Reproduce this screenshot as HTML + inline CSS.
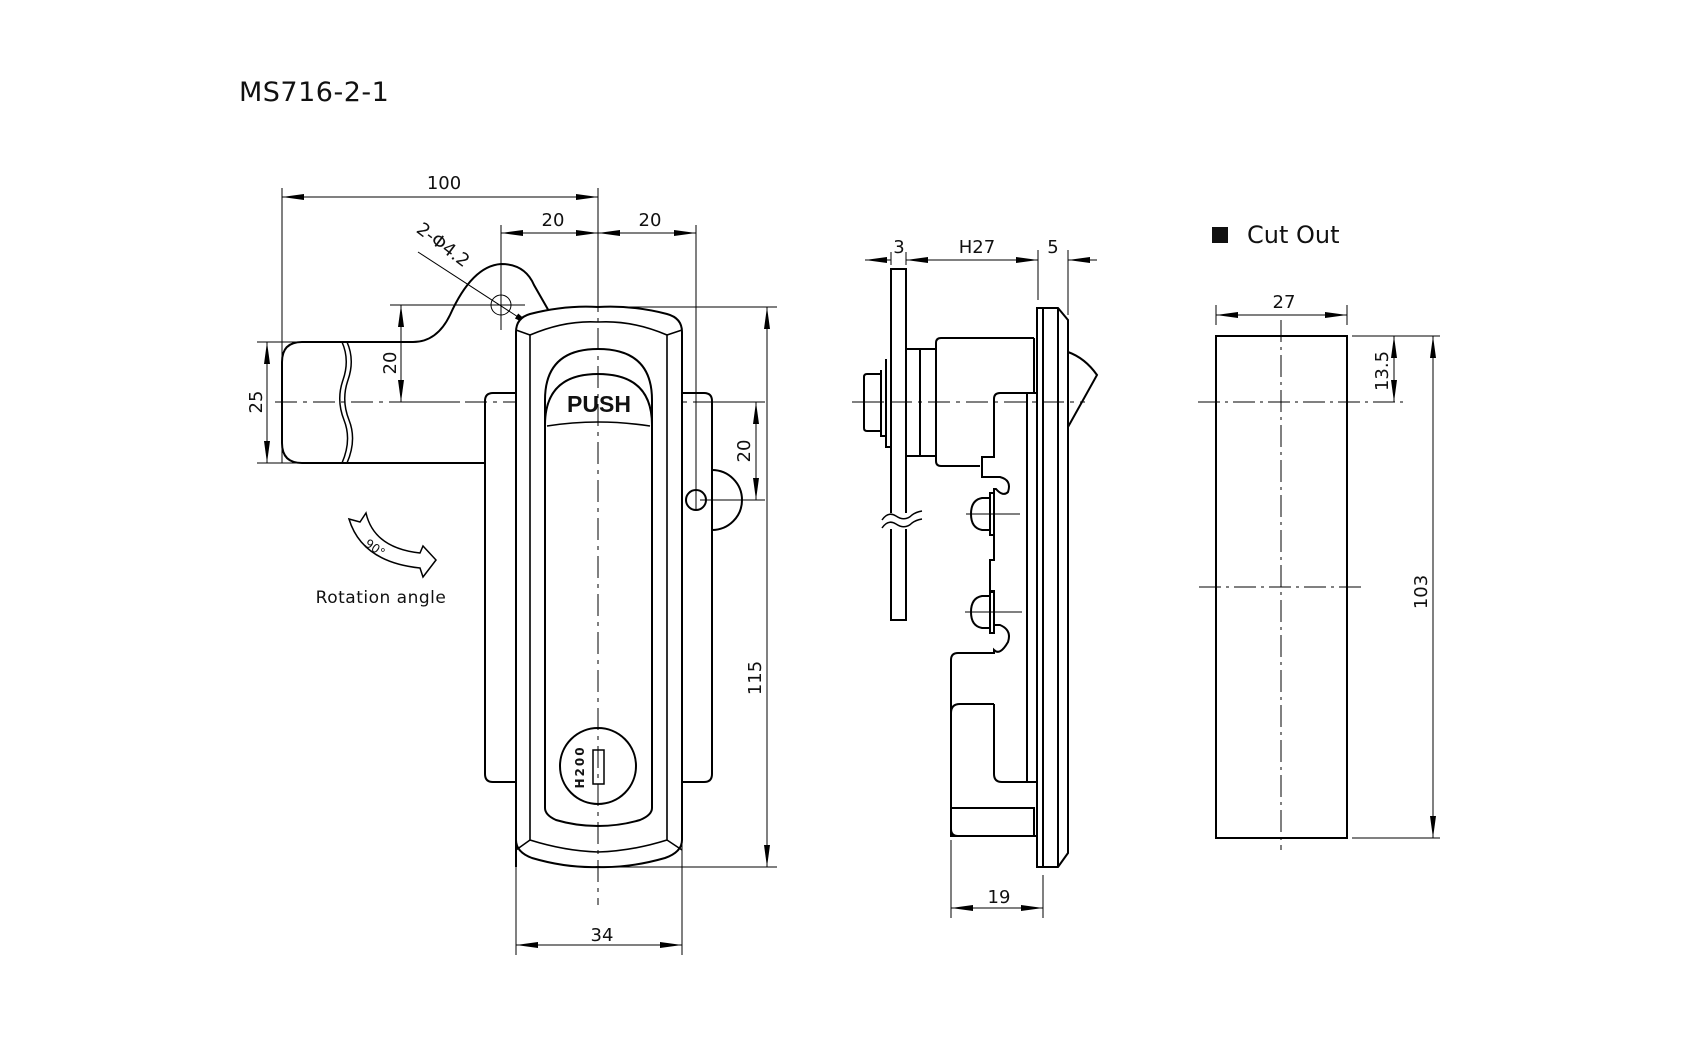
<!DOCTYPE html>
<html><head><meta charset="utf-8"><style>
html,body{margin:0;padding:0;background:#fff;}
svg{display:block;}
text{font-family:"DejaVu Sans","Liberation Sans",sans-serif;fill:#111;}
</style></head><body>
<svg width="1684" height="1045" viewBox="0 0 1684 1045" xmlns="http://www.w3.org/2000/svg">
<defs>
<marker id="a" viewBox="0 0 22 8" refX="22" refY="4" markerWidth="22" markerHeight="8" markerUnits="userSpaceOnUse" orient="auto-start-reverse"><path d="M0,1 L22,4 L0,7 Z" fill="#000"/></marker>
</defs>
<rect width="1684" height="1045" fill="#fff"/>
<text x="239" y="101" font-size="27" letter-spacing="0.5">MS716-2-1</text>

<!-- ============ FRONT VIEW ============ -->
<g fill="none" stroke="#000" stroke-width="1">
 <line x1="282" y1="188" x2="282" y2="463"/>
 <line x1="598" y1="188" x2="598" y2="300" />
 <line x1="501" y1="225" x2="501" y2="330"/>
 <line x1="696" y1="225" x2="696" y2="510"/>
 <line x1="282" y1="197" x2="598" y2="197" marker-start="url(#a)" marker-end="url(#a)"/>
 <line x1="501" y1="233" x2="598" y2="233" marker-start="url(#a)" marker-end="url(#a)"/>
 <line x1="598" y1="233" x2="696" y2="233" marker-start="url(#a)" marker-end="url(#a)"/>
 <line x1="257" y1="342" x2="300" y2="342"/>
 <line x1="257" y1="463" x2="300" y2="463"/>
 <line x1="267" y1="342" x2="267" y2="463" marker-start="url(#a)" marker-end="url(#a)"/>
 <line x1="390" y1="305" x2="525" y2="305"/>
 <line x1="401" y1="305" x2="401" y2="402" marker-start="url(#a)" marker-end="url(#a)"/>
 <line x1="390" y1="402" x2="460" y2="402"/>
 <line x1="598" y1="307" x2="777" y2="307"/>
 <line x1="598" y1="867" x2="777" y2="867"/>
 <line x1="767" y1="307" x2="767" y2="867" marker-start="url(#a)" marker-end="url(#a)"/>
 <line x1="712" y1="402" x2="765" y2="402"/>
 <line x1="700" y1="500" x2="765" y2="500"/>
 <line x1="756" y1="402" x2="756" y2="500" marker-start="url(#a)" marker-end="url(#a)"/>
 <line x1="516" y1="840" x2="516" y2="955"/>
 <line x1="682" y1="840" x2="682" y2="955"/>
 <line x1="516" y1="945" x2="682" y2="945" marker-start="url(#a)" marker-end="url(#a)"/>
 <line x1="418" y1="252" x2="535" y2="328" marker-end="url(#a)"/>
 <line x1="275" y1="402" x2="720" y2="402" stroke-dasharray="22,6,4,6"/>
 <line x1="481" y1="305" x2="525" y2="305"/>
 <line x1="501" y1="285" x2="501" y2="330"/>
 <circle cx="501" cy="305" r="10"/>
</g>
<g font-size="18">
 <text x="444" y="189" text-anchor="middle">100</text>
 <text x="553" y="226" text-anchor="middle">20</text>
 <text x="650" y="226" text-anchor="middle">20</text>
 <text x="407" y="244" transform="rotate(37 430 250)">2-Φ4.2</text>
 <text transform="translate(262 402) rotate(-90)" text-anchor="middle">25</text>
 <text transform="translate(396 363) rotate(-90)" text-anchor="middle">20</text>
 <text transform="translate(750 451) rotate(-90)" text-anchor="middle">20</text>
 <text transform="translate(761 678) rotate(-90)" text-anchor="middle">115</text>
 <text x="602" y="941" text-anchor="middle">34</text>
</g>
<g fill="none" stroke="#000" stroke-width="2">
 <path d="M485,463 L302,463 Q282,463 282,443 L282,362 Q282,342 302,342 L413,342 Q437,342 450,315 Q472,266 501,264 Q525,264 534,285 L550,313"/>
 <path d="M342,342 Q350,360 343,380 Q336,400 344,420 Q352,440 342,463" stroke-width="1.5"/>
 <path d="M347,342 Q355,360 348,380 Q341,400 349,420 Q357,440 347,463" stroke-width="1.5"/>
 <path d="M516,782 L493,782 Q485,782 485,774 L485,401 Q485,393 493,393 L516,393"/>
 <path d="M682,393 L704,393 Q712,393 712,401 L712,774 Q712,782 704,782 L682,782"/>
 <path d="M712,470 A30,30 0 0 1 712,530"/>
 <circle cx="696" cy="500" r="10"/>
 <path d="M516,867 L516,332 Q516,318 530,314 Q565,305 598,307 Q632,305 667,314 Q682,318 682,332 L682,840 Q682,852 665,858 Q630,868 598,867 Q566,868 532,858 Q516,852 516,840 Z" fill="#fff"/>
 <path d="M530,840 L530,335 Q565,320 598,322 Q632,320 667,335 L667,840 Q632,851 598,852 Q565,851 530,840 Z" stroke-width="1.6"/>
 <path d="M516,330 L530,335 M682,330 L667,335 M516,850 L530,840 M682,850 L667,840" stroke-width="1.5"/>
 <path d="M545,400 Q545,349 598,349 Q652,349 652,400 L652,808 Q652,815 640,820 Q620,826 598,826 Q576,826 556,820 Q545,815 545,808 Z"/>
 <path d="M545,425 Q545,374 598,374 Q652,374 652,425"/>
 <path d="M547,426 Q598,418 650,426" stroke-width="1.6"/>
 <circle cx="598" cy="766" r="38"/>
 <rect x="593" y="750" width="11" height="34" stroke-width="1.5"/>
</g>
<line x1="598" y1="290" x2="598" y2="905" stroke="#000" stroke-width="1" stroke-dasharray="22,6,4,6"/>
<text x="599" y="412" font-size="23" font-weight="bold" text-anchor="middle" style="font-family:'Liberation Sans',sans-serif">PUSH</text>
<text transform="translate(584 767) rotate(-90)" font-size="12" text-anchor="middle" letter-spacing="2" font-weight="bold">H200</text>
<path d="M349,519 L360,522 L366,513 Q374,548 420,553 L423,546 L436,560 L423,577 L420,568 Q362,562 349,519 Z" fill="none" stroke="#000" stroke-width="1.5"/>
<text x="364" y="551" font-size="12" transform="rotate(35 373 548)">90°</text>
<text x="381" y="603" font-size="17" text-anchor="middle" letter-spacing="0.5">Rotation angle</text>

<!-- ============ SIDE VIEW ============ -->
<g fill="none" stroke="#000" stroke-width="1">
 <line x1="891" y1="252" x2="891" y2="265"/>
 <line x1="906" y1="252" x2="906" y2="265"/>
 <line x1="1038" y1="250" x2="1038" y2="300"/>
 <line x1="1068" y1="250" x2="1068" y2="315"/>
 <line x1="865" y1="260" x2="891" y2="260" marker-start="url(#a)"/>
 <line x1="906" y1="260" x2="1038" y2="260" marker-start="url(#a)" marker-end="url(#a)"/>
 <line x1="1068" y1="260" x2="1097" y2="260" marker-start="url(#a)"/>
 <line x1="951" y1="840" x2="951" y2="918"/>
 <line x1="1043" y1="875" x2="1043" y2="918"/>
 <line x1="951" y1="908" x2="1043" y2="908" marker-start="url(#a)" marker-end="url(#a)"/>
 <line x1="852" y1="402" x2="1085" y2="402" stroke-dasharray="22,6,4,6"/>
 <line x1="966" y1="514" x2="1020" y2="514"/>
 <line x1="965" y1="612" x2="1022" y2="612"/>
</g>
<g font-size="18">
 <text x="899" y="253" text-anchor="middle">3</text>
 <text x="977" y="253" text-anchor="middle">H27</text>
 <text x="1053" y="253" text-anchor="middle">5</text>
 <text x="999" y="903" text-anchor="middle">19</text>
</g>
<g fill="none" stroke="#000" stroke-width="2">
 <path d="M891,513 L891,269 L906,269 L906,513"/>
 <path d="M891,529 L891,620 L906,620 L906,529"/>
 <path d="M882,520 Q888,511 896,516 Q905,522 912,515 Q916,512 922,511" stroke-width="1.5"/>
 <path d="M882,528 Q888,519 896,524 Q905,530 912,523 Q916,520 922,519" stroke-width="1.5"/>
 <path d="M886,359 L886,447 L891,447"/>
 <path d="M881,370 L881,436 L886,436"/>
 <path d="M867,374 L881,374 L881,431 L867,431 Q864,431 864,428 L864,377 Q864,374 867,374 Z"/>
 <line x1="864" y1="402" x2="881" y2="402" stroke-width="1"/>
 <rect x="906" y="349" width="30" height="107"/>
 <line x1="920" y1="349" x2="920" y2="456"/>
 <path d="M1034,338 L941,338 Q936,338 936,343 L936,461 Q936,466 941,466 L980,466"/>
 <line x1="1034" y1="338" x2="1034" y2="393"/>
 <path d="M1037,393 L1000,393 Q994,393 994,399 L994,457 L982,457 L982,477 L1000,477 Q1012,480 1008,492 Q1003,497 996,489 L994,489 L994,560 L990,560 L990,592 L994,592 L994,625 L1000,625 Q1012,630 1008,642 Q1000,656 994,650 L994,653 L958,653 Q951,653 951,660 L951,829 Q951,836 958,836 L1037,836"/>
 <path d="M951,713 Q951,704 960,704 L994,704"/>
 <path d="M994,704 L994,774 Q994,782 1002,782 L1037,782"/>
 <rect x="951" y="808" width="83" height="28"/>
 <line x1="1027" y1="393" x2="1027" y2="782"/>
 <path d="M990,498 L982,498 Q971,500 971,514 Q971,528 982,530 L990,530"/>
 <rect x="990" y="493" width="4" height="42"/>
 <path d="M990,596 L982,596 Q971,598 971,612 Q971,626 982,628 L990,628"/>
 <rect x="990" y="591" width="4" height="42"/>
 <path d="M1037,308 L1058,308 L1068,320 L1068,853 L1058,867 L1037,867 Z"/>
 <line x1="1043" y1="308" x2="1043" y2="867"/>
 <line x1="1058" y1="308" x2="1058" y2="867"/>
 <path d="M1068,352 Q1085,358 1097,375 L1068,427"/>
</g>

<!-- ============ CUT OUT ============ -->
<rect x="1212" y="227" width="16" height="16" fill="#111"/>
<text x="1247" y="243" font-size="24">Cut Out</text>
<g fill="none" stroke="#000" stroke-width="1">
 <line x1="1216" y1="305" x2="1216" y2="325"/>
 <line x1="1347" y1="305" x2="1347" y2="325"/>
 <line x1="1216" y1="315" x2="1347" y2="315" marker-start="url(#a)" marker-end="url(#a)"/>
 <line x1="1352" y1="336" x2="1440" y2="336"/>
 <line x1="1352" y1="838" x2="1440" y2="838"/>
 <line x1="1394" y1="336" x2="1394" y2="402" marker-start="url(#a)" marker-end="url(#a)"/>
 <line x1="1433" y1="336" x2="1433" y2="838" marker-start="url(#a)" marker-end="url(#a)"/>
 <line x1="1198" y1="402" x2="1404" y2="402" stroke-dasharray="22,5,3,5"/>
 <line x1="1199" y1="587" x2="1362" y2="587" stroke-dasharray="22,5,3,5"/>
 <line x1="1281" y1="320" x2="1281" y2="850" stroke-dasharray="22,5,3,5"/>
</g>
<rect x="1216" y="336" width="131" height="502" fill="none" stroke="#000" stroke-width="2"/>
<g font-size="18">
 <text x="1284" y="308" text-anchor="middle">27</text>
 <text transform="translate(1388 371) rotate(-90)" text-anchor="middle">13.5</text>
 <text transform="translate(1427 592) rotate(-90)" text-anchor="middle">103</text>
</g>
</svg>
</body></html>
